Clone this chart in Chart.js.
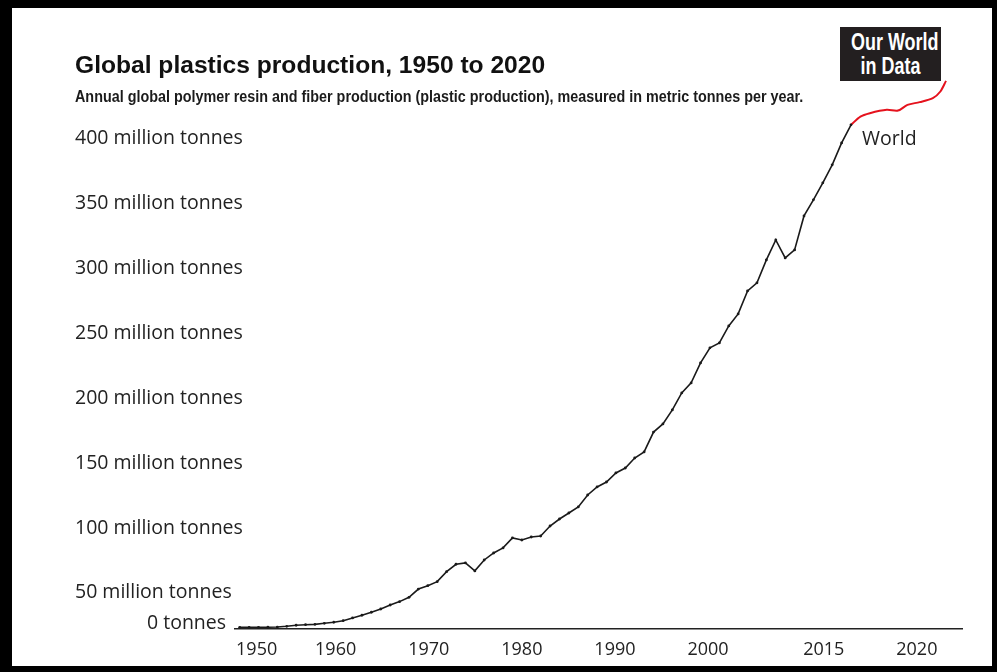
<!DOCTYPE html>
<html>
<head>
<meta charset="utf-8">
<script src="https://cdn.jsdelivr.net/npm/chart.js@4.4.1/dist/chart.umd.min.js"></script>
<style>
  html, body { margin: 0; padding: 0; background: #fff; }
  #wrap { position: relative; width: 997px; height: 672px; overflow: hidden; }
  #frame { position: absolute; inset: 0; box-sizing: border-box; border: solid #000; border-width: 8px 5px 6px 12px; pointer-events: none; }
  #title { position: absolute; left: 75px; top: 53px; font: bold 24.6px/24px "Liberation Sans", Arial, sans-serif; color: #111; white-space: nowrap; }
  #subtitle { position: absolute; left: 75px; top: 88px; font: bold 16.5px/16px "Liberation Sans", Arial, sans-serif; color: #1b1b1b; white-space: nowrap; transform: scaleX(0.87); transform-origin: 0 0; }
  #logo { position: absolute; left: 840px; top: 27px; width: 101px; height: 54px; box-sizing: border-box; padding-top: 3px; background: #231f20; color: #fff; font: bold 23px/24px "Liberation Sans", Arial, sans-serif; text-align: center; }
  #logo div { white-space: nowrap; transform: scaleX(0.78); transform-origin: 50% 0; }
</style>
</head>
<body>
<div id="wrap">
  <canvas id="chart" width="997" height="672"></canvas>
  <div id="title">Global plastics production, 1950 to 2020</div>
  <div id="subtitle">Annual global polymer resin and fiber production (plastic production), measured in metric tonnes per year.</div>
  <div id="logo"><div>Our World</div><div>in Data</div></div>
  <div id="frame"></div>
</div>
<script>
// values (million tonnes, against the axis labels)
const years = [1950, 1951, 1952, 1953, 1954, 1955, 1956, 1957, 1958, 1959,
  1960, 1961, 1962, 1963, 1964, 1965, 1966, 1967, 1968, 1969,
  1970, 1971, 1972, 1973, 1974, 1975, 1976, 1977, 1978, 1979,
  1980, 1981, 1982, 1983, 1984, 1985, 1986, 1987, 1988, 1989,
  1990, 1991, 1992, 1993, 1994, 1995, 1996, 1997, 1998, 1999,
  2000, 2001, 2002, 2003, 2004, 2005, 2006, 2007, 2008, 2009,
  2010, 2011, 2012, 2013, 2014, 2015];
const production = [23.5, 23.5, 23.5, 23.6, 23.7, 24.3, 25.1, 25.5, 25.8, 26.6,
  27.4, 28.6, 30.7, 32.8, 35.1, 37.6, 40.7, 43.3, 46.6, 53.0,
  55.6, 58.7, 66.4, 72.1, 73.1, 67.0, 75.4, 80.8, 84.7, 92.4,
  90.8, 93.1, 93.9, 101.6, 107.0, 111.6, 116.3, 125.5, 131.7, 135.5,
  142.5, 146.3, 154.0, 158.7, 174.0, 180.3, 191.1, 204.2, 211.9, 227.3,
  238.9, 242.7, 255.8, 265.1, 282.8, 289.0, 306.7, 322.1, 308.2, 314.4,
  340.6, 353.0, 366.1, 380.0, 396.9, 410.8];

// red continuation, x read on the same axis as the black line
const recentX = [2015, 2016, 2017, 2018.8, 2020, 2021, 2022.3, 2023.7, 2024.5, 2025.1];
const recentValues = [410.8, 417.2, 419.8, 422.4, 421.8, 426.2, 428.3, 431.4, 436.5, 444.7];

const xTickLabels = ['1950', '1960', '1970', '1980', '1990', '2000', '2015', '2020'];
const xTickAt = [1951.8, 1960.2, 1970.1, 1980, 1989.9, 1999.8, 2012.1, 2022];
const yTickLabels = ['50 million tonnes', '100 million tonnes', '150 million tonnes', '200 million tonnes',
  '250 million tonnes', '300 million tonnes', '350 million tonnes', '400 million tonnes'];
const yTickAt = [50, 100, 150, 200, 250, 300, 350, 400];
const zeroLabel = '0 tonnes';
const zeroLabelAt = 26.8;

const Y_MIN = 22.2, Y_MAX = 450;
const labelFont = { family: '"Open Sans", sans-serif', size: 19.5 };

const seriesLabel = {
  id: 'seriesLabel',
  afterDatasetsDraw(chart) {
    const meta = chart.getDatasetMeta(0);
    const last = meta.data[meta.data.length - 1];
    const c = chart.ctx;
    c.save();
    c.font = '19.5px "Open Sans", sans-serif';
    c.fillStyle = '#222';
    c.textBaseline = 'middle';
    c.fillText(chart.data.datasets[0].label, last.x + 11, last.y + 15);
    c.restore();
  }
};

new Chart(document.getElementById('chart'), {
  type: 'line',
  data: {
    datasets: [{
      label: 'World',
      data: years.map((yr, i) => ({ x: yr, y: production[i] })),
      borderColor: '#1a1a1a',
      borderWidth: 1.6,
      pointRadius: 1.4,
      pointBorderWidth: 0,
      pointBackgroundColor: '#1a1a1a',
      tension: 0
    }, {
      label: 'recent',
      data: recentX.map((x, i) => ({ x: x, y: recentValues[i] })),
      borderColor: '#e5121d',
      borderWidth: 2,
      pointRadius: 0,
      tension: 0.3
    }]
  },
  options: {
    responsive: false,
    animation: false,
    layout: { padding: { left: 75, right: 35, top: 74, bottom: 0 } },
    plugins: { legend: { display: false }, tooltip: { enabled: false } },
    scales: {
      x: {
        type: 'linear',
        min: 1949.5,
        max: 2026.8,
        grid: { display: false, drawTicks: false },
        border: { display: true, color: '#222', width: 1.5 },
        afterBuildTicks: s => { s.ticks = xTickAt.map(v => ({ value: v })); },
        afterFit: s => { s.height = 43; },
        ticks: {
          autoSkip: false,
          maxRotation: 0,
          padding: 10,
          color: '#222',
          font: { family: '"Open Sans", sans-serif', size: 18 },
          callback: (v, i) => xTickLabels[i]
        }
      },
      y: {
        type: 'linear',
        position: 'left',
        weight: 1,
        min: Y_MIN,
        max: Y_MAX,
        grid: { display: false, drawTicks: false },
        border: { display: false },
        afterBuildTicks: s => { s.ticks = yTickAt.map(v => ({ value: v })); },
        afterFit: s => { s.width = 160; },
        ticks: {
          mirror: true,
          padding: -160,
          color: '#222',
          font: labelFont,
          callback: (v, i) => yTickLabels[i]
        }
      },
      y0: {
        type: 'linear',
        position: 'left',
        weight: 0,
        min: Y_MIN,
        max: Y_MAX,
        grid: { display: false, drawTicks: false },
        border: { display: false },
        afterBuildTicks: s => { s.ticks = [{ value: zeroLabelAt }]; },
        afterFit: s => { s.width = 0; },
        ticks: {
          mirror: true,
          padding: -88,
          color: '#222',
          font: labelFont,
          callback: () => zeroLabel
        }
      }
    }
  },
  plugins: [seriesLabel]
});
</script>
</body>
</html>
